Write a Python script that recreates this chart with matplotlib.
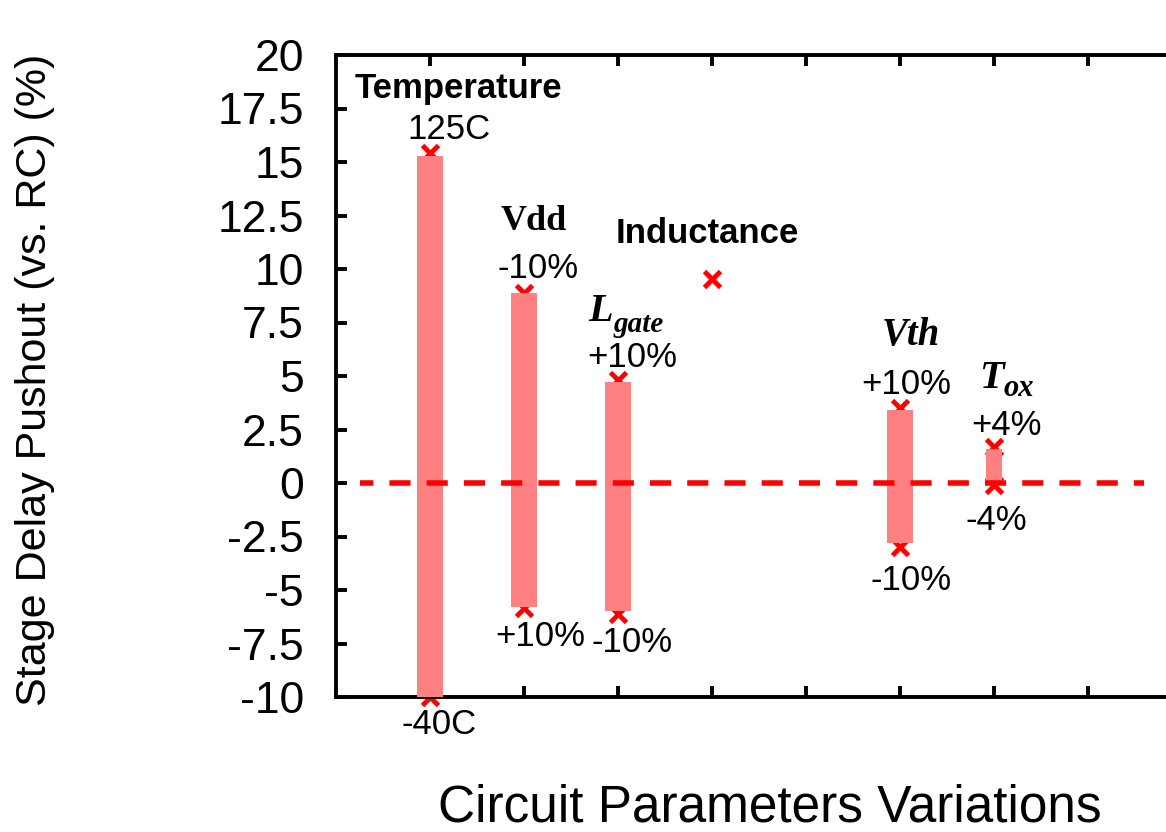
import matplotlib
matplotlib.use("Agg")
import matplotlib.pyplot as plt

# Data
positions = [1, 2, 3, 6, 7]
bar_high = [15.3, 8.9, 4.7, 3.4, 1.6]
bar_low = [-10.0, -5.8, -6.0, -2.8, 0.0]
bar_widths = [0.28, 0.28, 0.28, 0.28, 0.18]
marker_high = [15.4, 8.9, 4.8, 3.5, 1.7]
marker_low = [-10.0, -5.85, -6.1, -3.0, -0.1]
ind_pos = 4
ind_val = 9.55
yticks = [20, 17.5, 15, 12.5, 10, 7.5, 5, 2.5, 0, -2.5, -5, -7.5, -10]
ytick_labels = ["20", "17.5", "15", "12.5", "10", "7.5", "5", "2.5", "0", "-2.5", "-5", "-7.5", "-10"]
xticks = [1, 2, 3, 4, 5, 6, 7, 8]

plt.rcParams['font.family'] = ['Liberation Sans', 'DejaVu Sans']

fig = plt.figure(figsize=(11.66, 8.32), dpi=100)
ax = fig.add_axes([336/1166, 1-697/832, (1182-336)/1166, (697-55)/832])
ax.set_xlim(0, 9)
ax.set_ylim(-10, 20)

red = '#FF0000'
barc = '#FF8080'

# markers (behind bars)
ax.plot(positions, marker_high, 'x', color=red, ms=11, mew=3.5, zorder=2, clip_on=False)
ax.plot(positions, marker_low, 'x', color=red, ms=11, mew=3.5, zorder=2, clip_on=False)
ax.plot([ind_pos], [ind_val], 'x', color=red, ms=11, mew=3.5, zorder=2)

for p, h, l, w in zip(positions, bar_high, bar_low, bar_widths):
    ax.bar(p, h - l, bottom=l, width=w, color=barc, zorder=3)

ax.plot([0.255, 8.6], [0, 0], color=red, lw=4, ls=(1.4, (3.8, 2.9)), zorder=4)

# spines and ticks
for s in ['left', 'top', 'bottom']:
    ax.spines[s].set_linewidth(2.8)
ax.spines['right'].set_visible(False)
ax.set_yticks(yticks)
ax.set_yticklabels(ytick_labels, fontsize=32)
ax.set_xticks(xticks)
ax.set_xticklabels([])
ax.tick_params(axis='y', direction='in', length=8, width=2.8, pad=23, right=False)
ax.tick_params(axis='x', direction='in', length=8, width=2.8, top=True, bottom=True)

fig.text(35/1166, 1-380/832, 'Stage Delay Pushout (vs. RC) (%)', rotation=90,
         fontsize=31, ha='center', va='center')
fig.text(770/1166, 1-808/832, 'Circuit Parameters Variations', fontsize=37,
         ha='center', va='center')

sans_label = dict(fontsize=25, ha='center', va='center')
bold_label = dict(fontsize=25, fontweight='bold', ha='center', va='center')
serif_bi = dict(fontweight='bold', style='italic', family='Liberation Serif', va='center')
ax.text(1.3, 18.45, 'Temperature', **bold_label)
ax.text(1.2, 16.5, '125C', **sans_label)
ax.text(1.1, -11.3, '-40C', **sans_label, clip_on=False)
ax.text(2.1, 12.2, 'Vdd', fontsize=26, fontweight='bold', family='Liberation Serif', ha='center', va='center')
ax.text(2.15, 10.0, '-10%', **sans_label)
ax.text(2.17, -7.15, '+10%', **sans_label)
ax.text(3.95, 11.65, 'Inductance', **bold_label)
ax.text(2.95, 8.0, 'L', fontsize=29, ha='right', **serif_bi)
ax.text(2.95, 7.4, 'gate', fontsize=21, ha='left', **serif_bi)
ax.text(3.15, 5.85, '+10%', **sans_label)
ax.text(3.15, -7.45, '-10%', **sans_label)
ax.text(6.12, 6.9, 'Vth', fontsize=28, ha='center', **serif_bi)
ax.text(6.07, 4.6, '+10%', **sans_label)
ax.text(6.12, -4.55, '-10%', **sans_label)
ax.text(7.1, 4.9, 'T', fontsize=29, ha='right', **serif_bi)
ax.text(7.1, 4.4, 'ox', fontsize=22, ha='left', **serif_bi)
ax.text(7.13, 2.7, '+4%', **sans_label)
ax.text(7.02, -1.75, '-4%', **sans_label)

fig.savefig('out.png', dpi=100)
